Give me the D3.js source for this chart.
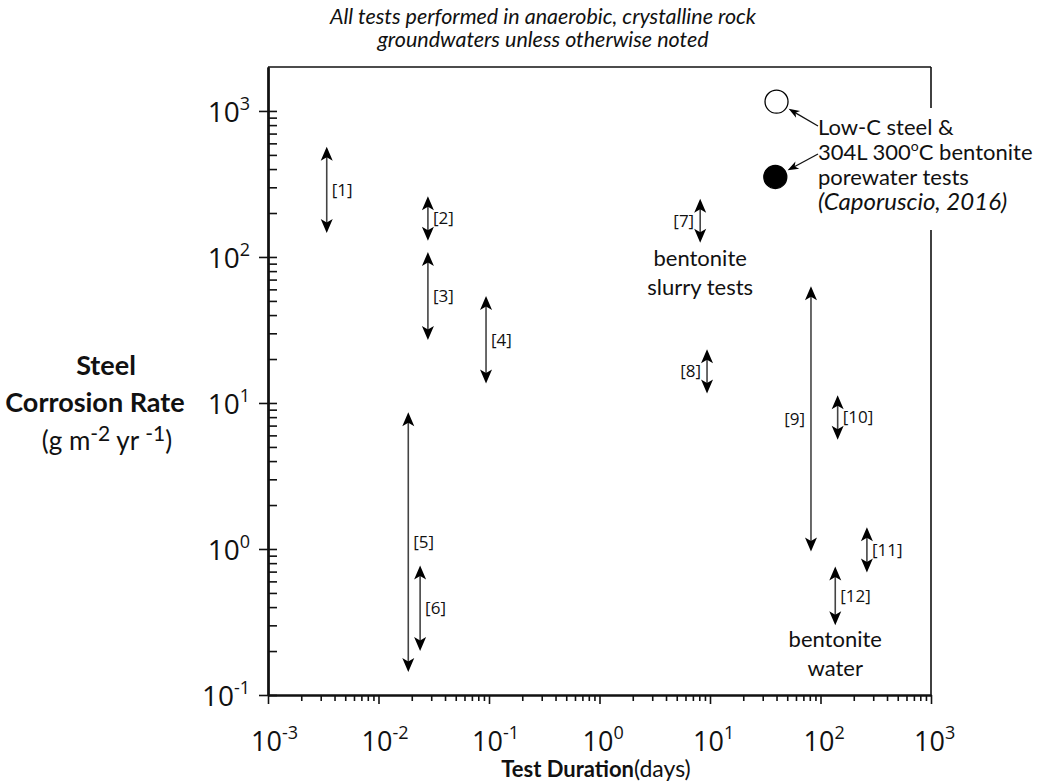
<!DOCTYPE html>
<html>
<head>
<meta charset="utf-8">
<script src="https://cdn.jsdelivr.net/npm/d3@7"></script>
<style>
  body { margin: 0; background: #fff; }
  text { fill: #111; }
</style>
</head>
<body>
<div id="chart"></div>
<script>
// test reference numbers, durations (days) and corrosion-rate ranges (g m-2 yr-1)
const testIds   = ['[1]', '[2]', '[3]', '[4]', '[5]', '[6]', '[7]', '[8]', '[9]', '[10]', '[11]', '[12]'];
const durations = [0.0034, 0.028, 0.028, 0.094, 0.0186, 0.0238, 8.15, 9.4, 82, 143, 263, 136];
const rateLow   = [146, 129, 27, 13.6, 0.144, 0.2, 125, 11.6, 0.96, 5.6, 0.69, 0.3];
const rateHigh  = [568, 261, 108, 54, 8.65, 0.77, 250, 23.3, 63, 11.3, 1.41, 0.76];
const labelSide = ['r', 'r', 'r', 'r', 'r', 'r', 'l', 'l', 'l', 'r', 'r', 'r'];

// Caporuscio 2016 points
const capDuration = [40, 39];
const capRate     = [1157, 353];
const capFilled   = [false, true];

const xMajor = [1e-3, 1e-2, 1e-1, 1e0, 1e1, 1e2, 1e3];
const xExp   = ['-3', '-2', '-1', '0', '1', '2', '3'];
const yMajor = [1e-1, 1e0, 1e1, 1e2, 1e3];
const yExp   = ['-1', '0', '1', '2', '3'];

const width = 1052, height = 782;

let svg = d3.select('#chart').
append('svg').
attr('width', width).
attr('height', height);

let x = d3.scaleLog().domain([1e-3, 1e3]).range([268, 931]);
let y = d3.scaleLog().domain([0.1, 2000]).range([695, 67]);

// minor tick values
let xMinor = [];
for (let k = -3; k < 3; k++) for (let m = 2; m < 10; m++) xMinor.push(m * Math.pow(10, k));
let yMinor = [];
for (let k = -1; k < 4; k++) for (let m = 2; m < 10; m++) {
  let v = m * Math.pow(10, k);
  if (v < 2000) yMinor.push(v);
}

// title
function titleLine(s, ty) {
  svg.append('text').
  attr('x', 543).
  attr('y', ty).
  attr('text-anchor', 'middle').
  style('font-family', 'Lato').
  style('font-style', 'italic').
  style('font-size', '21.5px').
  text(s);
}
titleLine('All tests performed in anaerobic, crystalline rock', 24);
titleLine('groundwaters unless otherwise noted', 47);

// frame top + right
svg.append('line').
attr('x1', x(1e-3)).attr('x2', x(1e3)).
attr('y1', y(2000)).attr('y2', y(2000)).
attr('stroke', '#111').attr('stroke-width', 1.6);
svg.append('line').
attr('x1', x(1e3)).attr('x2', x(1e3)).
attr('y1', y(2000)).attr('y2', y(0.1)).
attr('stroke', '#111').attr('stroke-width', 1.6);

// x axis
let xAxisG = svg.append('g').attr('transform', 'translate(0,' + y(0.1) + ')');
xAxisG.call(d3.axisBottom(x).tickValues(xMinor).tickSize(6).tickSizeOuter(0).tickFormat(''));
xAxisG.append('g').call(d3.axisBottom(x).tickValues(xMajor).tickSize(9).tickSizeOuter(0).tickFormat(''));
xAxisG.selectAll('path').attr('stroke', '#111').attr('stroke-width', 2);
xAxisG.selectAll('line').attr('stroke', '#111').attr('stroke-width', 1.6);

xMajor.forEach(function (v, i) {
  let t = svg.append('text').
  attr('x', x(v) - 17).
  attr('y', 751).
  style('font-family', 'Open Sans').
  style('font-size', '27px');
  t.append('tspan').text('10');
  t.append('tspan').attr('dy', -12).style('font-size', '18px').text(xExp[i]);
});

// y axis
let yAxisG = svg.append('g').attr('transform', 'translate(' + x(1e-3) + ',0)');
yAxisG.call(d3.axisLeft(y).tickValues(yMinor).tickSize(-9).tickSizeOuter(0).tickFormat(''));
yAxisG.append('g').call(d3.axisLeft(y).tickValues(yMajor).tickSize(9).tickSizeOuter(0).tickFormat(''));
yAxisG.append('g').call(d3.axisLeft(y).tickValues(yMajor).tickSize(-9).tickSizeOuter(0).tickFormat(''));
yAxisG.selectAll('path').attr('stroke', '#111').attr('stroke-width', 2);
yAxisG.selectAll('line').attr('stroke', '#111').attr('stroke-width', 1.6);

yMajor.forEach(function (v, i) {
  let t = svg.append('text').
  attr('x', 250).
  attr('y', y(v) + 11).
  attr('text-anchor', 'end').
  style('font-family', 'Open Sans').
  style('font-size', '28px');
  t.append('tspan').text('10');
  t.append('tspan').attr('dy', -12).style('font-size', '18px').text(yExp[i]);
});

// axis titles
let yTitle = svg.append('g').
style('font-family', 'Lato').
style('font-size', '27px');
yTitle.append('text').attr('x', 106).attr('y', 375).attr('text-anchor', 'middle').
style('font-weight', 'bold').text('Steel');
yTitle.append('text').attr('x', 95).attr('y', 412).attr('text-anchor', 'middle').
style('font-weight', 'bold').text('Corrosion Rate');
let unit = yTitle.append('text').attr('x', 107).attr('y', 450).attr('text-anchor', 'middle').
style('font-size', '26px');
unit.append('tspan').text('(g m');
unit.append('tspan').attr('dy', -9).style('font-size', '21px').text('-2');
unit.append('tspan').attr('dy', 9).text(' yr ');
unit.append('tspan').attr('dy', -9).style('font-size', '21px').text('-1');
unit.append('tspan').attr('dy', 9).text(')');

let xTitle = svg.append('text').
attr('x', 596).
attr('y', 777).
attr('text-anchor', 'middle').
style('font-family', 'Lato').
style('font-size', '22px');
xTitle.append('tspan').style('font-weight', 'bold').text('Test Duration');
xTitle.append('tspan').style('font-size', '23px').text('(days)');

// double-headed arrows
function arrowHead(px, py, dir) {
  // dir = -1 points up, 1 points down
  return 'M' + px + ',' + py +
  'L' + (px + 6) + ',' + (py - dir * 14) +
  'L' + px + ',' + (py - dir * 10.5) +
  'L' + (px - 6) + ',' + (py - dir * 14) + 'Z';
}

let arrows = svg.append('g');
testIds.forEach(function (id, i) {
  let ax = x(durations[i]);
  let yTop = y(rateHigh[i]);
  let yBot = y(rateLow[i]);
  arrows.append('line').
  attr('x1', ax).attr('x2', ax).
  attr('y1', yTop + 8).attr('y2', yBot - 8).
  attr('stroke', '#444').
  attr('stroke-width', 1.6);
  arrows.append('path').attr('d', arrowHead(ax, yTop, -1)).attr('fill', '#000');
  arrows.append('path').attr('d', arrowHead(ax, yBot, 1)).attr('fill', '#000');
  let ym = y(Math.sqrt(rateLow[i] * rateHigh[i]));
  arrows.append('text').
  attr('x', labelSide[i] == 'r' ? ax + 5 : ax - 6).
  attr('y', ym + 6).
  attr('text-anchor', labelSide[i] == 'r' ? 'start' : 'end').
  style('font-family', 'Open Sans').
  style('font-size', '17px').
  text(id);
});

// group notes
function note(lines, cx, y0) {
  lines.forEach(function (s, j) {
    svg.append('text').
    attr('x', cx).
    attr('y', y0 + j * 29).
    attr('text-anchor', 'middle').
    style('font-family', 'Lato').
    style('font-size', '22px').
    text(s);
  });
}
note(['bentonite', 'slurry tests'], x(durations[6]), 266);
note(['bentonite', 'water'], x(durations[11]), 647);

// annotation block (covers right frame)
svg.append('rect').
attr('x', 814).attr('y', 108).
attr('width', 238).attr('height', 122).
attr('fill', '#fff');

let annLines = ['Low-C steel &', null, 'porewater tests', '(Caporuscio, 2016)'];
annLines.forEach(function (s, j) {
  let t = svg.append('text').
  attr('x', 818).
  attr('y', 135 + j * 25).
  style('font-family', 'Lato').
  style('font-size', '22px');
  if (j == 1) {
    t.append('tspan').text('304L 300');
    t.append('tspan').attr('dy', -9).style('font-size', '14px').text('o');
    t.append('tspan').attr('dy', 9).text('C bentonite');
  } else {
    t.text(s);
  }
  if (j == 3) t.style('font-style', 'italic').style('font-size', '24px');
});

// Caporuscio points
capDuration.forEach(function (d, i) {
  svg.append('circle').
  attr('cx', x(d)).
  attr('cy', y(capRate[i])).
  attr('r', 11.5).
  attr('fill', capFilled[i] ? '#000' : '#fff').
  attr('stroke', '#000').
  attr('stroke-width', 1.3);
});

// leader arrows from text to points
let leaders = [[818, 126], [818, 154]];
function leader(tx, ty, cx, cy) {
  let dx = tx - cx, dy = ty - cy;
  let len = Math.sqrt(dx * dx + dy * dy);
  let ux = dx / len, uy = dy / len;
  let px = cx + ux * 14, py = cy + uy * 14;
  svg.append('line').
  attr('x1', tx).attr('y1', ty).
  attr('x2', px + ux * 6).attr('y2', py + uy * 6).
  attr('stroke', '#111').attr('stroke-width', 1.3);
  let nx = -uy, ny = ux;
  svg.append('path').
  attr('d', 'M' + px + ',' + py +
  'L' + (px + ux * 11 + nx * 4) + ',' + (py + uy * 11 + ny * 4) +
  'L' + (px + ux * 8) + ',' + (py + uy * 8) +
  'L' + (px + ux * 11 - nx * 4) + ',' + (py + uy * 11 - ny * 4) + 'Z').
  attr('fill', '#000');
}
capDuration.forEach(function (d, i) {
  leader(leaders[i][0], leaders[i][1], x(d), y(capRate[i]));
});
</script>
</body>
</html>
